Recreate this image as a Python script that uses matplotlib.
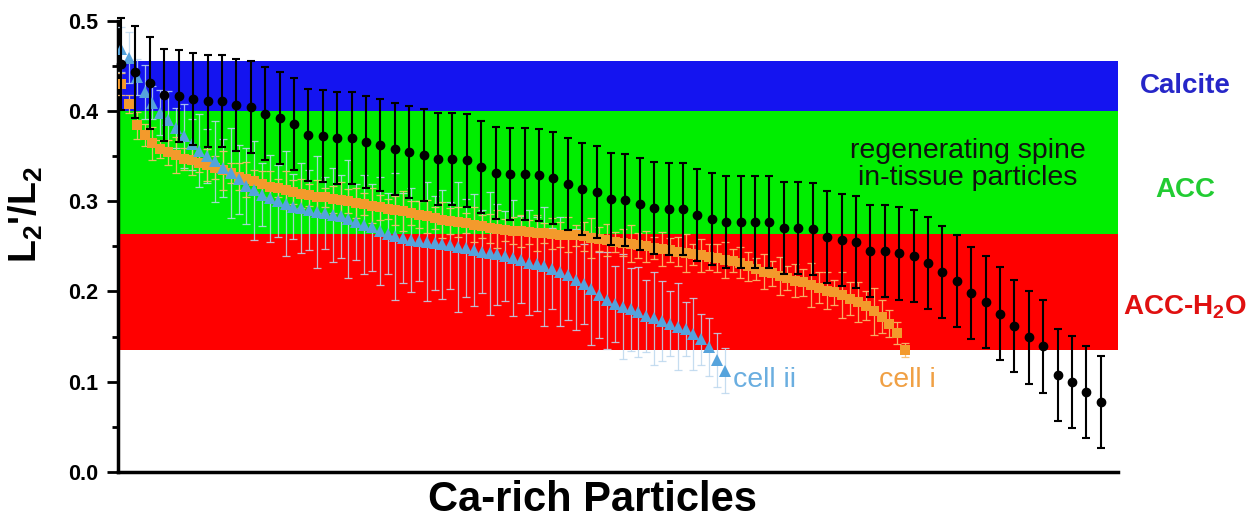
import matplotlib
matplotlib.use("Agg")
import numpy as np
import matplotlib.pyplot as plt
from matplotlib.ticker import MultipleLocator
import matplotlib.transforms as mtransforms

plt.rcParams['font.family'] = ['Liberation Sans', 'DejaVu Sans']
plt.rcParams['mathtext.fontset'] = 'custom'
plt.rcParams['mathtext.rm'] = 'Liberation Sans:bold'
plt.rcParams['mathtext.default'] = 'rm'

# regenerating spine, in-tissue particles (sorted)
tissue_vals = [0.452, 0.443, 0.431, 0.418, 0.4165, 0.413, 0.411, 0.4105, 0.4065, 0.404,
               0.397, 0.392, 0.385, 0.3736, 0.3725, 0.370, 0.3695, 0.365, 0.3618, 0.3577,
               0.3548, 0.3514, 0.347, 0.3463, 0.345, 0.3377, 0.331, 0.3304, 0.3304, 0.329,
               0.326, 0.319, 0.3137, 0.3104, 0.3027, 0.3012, 0.2964, 0.292, 0.2912, 0.2912,
               0.2845, 0.2805, 0.2772, 0.2772, 0.2772, 0.2772, 0.2705, 0.2705, 0.2694, 0.2602,
               0.2565, 0.2547, 0.245, 0.245, 0.242, 0.2395, 0.2313, 0.221, 0.2114, 0.198,
               0.188, 0.1755, 0.162, 0.149, 0.139, 0.107, 0.0994, 0.0883, 0.0776]
tissue_err = 0.051

# cell i
cell1_vals = [0.430, 0.408, 0.384, 0.373, 0.364, 0.358, 0.354, 0.351, 0.347, 0.345,
              0.342, 0.340, 0.337, 0.334, 0.331, 0.327, 0.324, 0.322, 0.319, 0.316,
              0.314, 0.312, 0.310, 0.308, 0.307, 0.305, 0.304, 0.302, 0.301, 0.300,
              0.298, 0.297, 0.295, 0.293, 0.291, 0.290, 0.289, 0.287, 0.285, 0.283,
              0.281, 0.279, 0.278, 0.277, 0.276, 0.274, 0.272, 0.270, 0.269, 0.268,
              0.267, 0.267, 0.266, 0.265, 0.265, 0.264, 0.263, 0.263, 0.262, 0.261,
              0.259, 0.258, 0.257, 0.255, 0.254, 0.253, 0.251, 0.250, 0.248, 0.247,
              0.246, 0.244, 0.243, 0.241, 0.240, 0.238, 0.237, 0.235, 0.234, 0.232,
              0.228, 0.225, 0.222, 0.220, 0.217, 0.215, 0.212, 0.210, 0.207, 0.204,
              0.201, 0.199, 0.196, 0.192, 0.188, 0.184, 0.178, 0.172, 0.164, 0.154, 0.135]
cell1_err = [0.012, 0.010, 0.015, 0.012, 0.018, 0.010, 0.014, 0.020, 0.012, 0.016,
             0.010, 0.018, 0.013, 0.022, 0.011, 0.015, 0.019, 0.012, 0.014, 0.017,
             0.010, 0.021, 0.013, 0.016, 0.012, 0.018, 0.011, 0.015, 0.020, 0.013,
             0.017, 0.012, 0.019, 0.014, 0.011, 0.016, 0.022, 0.013, 0.015, 0.018,
             0.012, 0.020, 0.014, 0.017, 0.011, 0.019, 0.013, 0.016, 0.021, 0.012,
             0.015, 0.018, 0.013, 0.020, 0.011, 0.017, 0.014, 0.019, 0.012, 0.016,
             0.022, 0.013, 0.018, 0.011, 0.015, 0.020, 0.014, 0.017, 0.012, 0.019,
             0.013, 0.016, 0.021, 0.012, 0.018, 0.014, 0.015, 0.020, 0.013, 0.017,
             0.016, 0.012, 0.019, 0.014, 0.021, 0.013, 0.018, 0.015, 0.024, 0.017,
             0.020, 0.014, 0.025, 0.018, 0.022, 0.016, 0.026, 0.018, 0.015, 0.012, 0.008]

# cell ii
cell2_vals = [0.468, 0.459, 0.437, 0.421, 0.409, 0.398, 0.390, 0.381, 0.372, 0.363,
              0.356, 0.350, 0.344, 0.337, 0.331, 0.324, 0.317, 0.312, 0.307, 0.303,
              0.300, 0.297, 0.294, 0.292, 0.290, 0.288, 0.287, 0.285, 0.283, 0.280,
              0.277, 0.274, 0.271, 0.267, 0.264, 0.261, 0.259, 0.257, 0.256, 0.255,
              0.254, 0.252, 0.251, 0.249, 0.248, 0.246, 0.244, 0.242, 0.241, 0.239,
              0.237, 0.235, 0.232, 0.230, 0.228, 0.225, 0.222, 0.218, 0.213, 0.208,
              0.203, 0.196, 0.190, 0.186, 0.183, 0.180, 0.177, 0.173, 0.170, 0.167,
              0.164, 0.161, 0.158, 0.153, 0.147, 0.138, 0.124, 0.112]
cell2_err = [0.025, 0.028, 0.020, 0.030, 0.018, 0.025, 0.032, 0.022, 0.035, 0.028,
             0.040, 0.030, 0.045, 0.032, 0.050, 0.038, 0.042, 0.055, 0.035, 0.048,
             0.040, 0.058, 0.036, 0.050, 0.044, 0.062, 0.040, 0.052, 0.046, 0.065,
             0.042, 0.055, 0.048, 0.060, 0.045, 0.070, 0.050, 0.058, 0.044, 0.066,
             0.052, 0.060, 0.048, 0.072, 0.054, 0.062, 0.046, 0.068, 0.056, 0.050,
             0.064, 0.048, 0.058, 0.052, 0.066, 0.045, 0.060, 0.050, 0.056, 0.044,
             0.062, 0.048, 0.054, 0.042, 0.058, 0.046, 0.050, 0.040, 0.052, 0.044,
             0.036, 0.048, 0.030, 0.040, 0.028, 0.032, 0.030, 0.025]

# phase bands
band_names = ['Calcite', 'ACC', 'ACC-H$_2$O']
band_lo = [0.400, 0.264, 0.135]
band_hi = [0.455, 0.400, 0.264]
band_colors = ['#1414f0', '#00ee00', '#ff0000']
band_text_colors = ['#2626c8', '#22cc33', '#e01010']
band_label_y = [0.428, 0.312, 0.183]

fig = plt.figure(figsize=(12.53, 5.18), dpi=100)
ax = fig.add_axes([0.0942, 0.0888, 0.7981, 0.8716])

for lo, hi, c in zip(band_lo, band_hi, band_colors):
    ax.axhspan(lo, hi, color=c, lw=0)

ax.set_ylim(0, 0.5)
ax.set_xlim(-0.21, 69.19)

# cells on their own index scale
axc = ax.twiny()
axc.set_xlim(-0.38, 127.17)
axc.axis('off')
x1 = np.arange(len(cell1_vals))
x2 = np.arange(len(cell2_vals))
axc.errorbar(x2, cell2_vals, yerr=cell2_err, fmt='none', ecolor='#bcd7ee',
             elinewidth=0.9, capsize=3, capthick=0.9, alpha=0.85)
axc.errorbar(x1, cell1_vals, yerr=cell1_err, fmt='none', ecolor='#f7bd6e',
             elinewidth=0.9, capsize=3, capthick=0.9, alpha=0.9)
axc.plot(x1, cell1_vals, 's', color='#f39a2c', markersize=6.5, mew=0)
axc.plot(x2, cell2_vals, '^', color='#55a3dc', markersize=8, mew=0)

# in-tissue particles on top
axt = ax.twiny()
axt.set_xlim(-0.21, 69.19)
axt.axis('off')
xt = np.arange(len(tissue_vals))
axt.errorbar(xt, tissue_vals, yerr=tissue_err, fmt='o', color='black',
             markersize=6, ecolor='black', elinewidth=1.5, capsize=3,
             capthick=1.5, clip_on=False)

ax.yaxis.set_major_locator(MultipleLocator(0.1))
ax.yaxis.set_minor_locator(MultipleLocator(0.05))
ax.yaxis.set_major_formatter(matplotlib.ticker.FormatStrFormatter('%.1f'))
ax.tick_params(axis='y', which='major', direction='out', length=8, width=2,
               labelsize=15.5, pad=6)
ax.tick_params(axis='y', which='minor', direction='out', length=4.5, width=2)
ax.tick_params(axis='x', which='both', bottom=False, top=False,
               labelbottom=False, labeltop=False)
for lab in ax.get_yticklabels():
    lab.set_fontweight('bold')
for s in ['top', 'right']:
    ax.spines[s].set_visible(False)
ax.spines['left'].set_linewidth(2.5)
ax.spines['bottom'].set_linewidth(2.5)

trans = mtransforms.blended_transform_factory(ax.transAxes, ax.transData)
for name, y, c in zip(band_names, band_label_y, band_text_colors):
    ax.text(1.067, y, name, color=c, fontsize=20, fontweight='bold',
            ha='center', va='center', transform=trans, clip_on=False)

axt.text(0.85, 0.340, 'regenerating spine\nin-tissue particles', color='#111111',
         fontsize=20.5, ha='center', va='center', linespacing=1.05,
         transform=trans, zorder=10)
axt.text(0.615, 0.102, 'cell ii', color='#6aaee0', fontsize=20.5,
         ha='left', va='center', transform=trans)
axt.text(0.761, 0.102, 'cell i', color='#f0a044', fontsize=20.5,
         ha='left', va='center', transform=trans)

fig.text(0.021, 0.585, "L$_2$'/L$_2$", rotation=90, fontsize=27,
         fontweight='bold', ha='center', va='center')
fig.text(0.473, 0.035, 'Ca-rich Particles', fontsize=30, fontweight='bold',
         ha='center', va='center')

fig.savefig('out.png', dpi=100)
